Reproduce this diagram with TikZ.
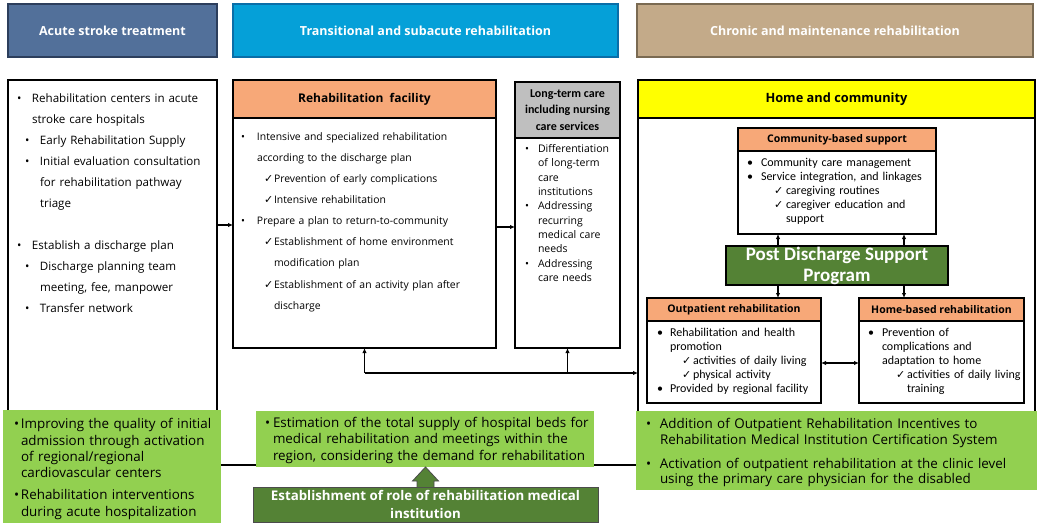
\documentclass[tikz,border=0pt]{standalone}
\usepackage{fontspec}
\setmainfont{Open Sans}
\newfontfamily\calfont{Carlito}
\newfontfamily\djv{DejaVu Sans}
\usetikzlibrary{arrows.meta}
\definecolor{acuteC}{HTML}{52709A}
\definecolor{acuteB}{HTML}{2C3E5C}
\definecolor{transC}{HTML}{05A0D8}
\definecolor{transB}{HTML}{0A6EA8}
\definecolor{chronC}{HTML}{C3AA89}
\definecolor{chronB}{HTML}{7A6A52}
\definecolor{orangeC}{HTML}{F7A878}
\definecolor{grayC}{HTML}{BFBFBF}
\definecolor{lgreen}{HTML}{92D050}
\definecolor{dgreen}{HTML}{548235}
\definecolor{yel}{HTML}{FFFF00}
\newcommand\itm[3]{\par\hangindent=#2\hangafter=1\noindent\hbox to #2{\hspace*{#1}#3\hfil}\ignorespaces}
\newcommand\bul{•}
\newcommand\chk{{\djv\fontsize{11}{11}\selectfont ✓}}
\newcommand\nl{\hfil\break}
\begin{document}
\begin{tikzpicture}[x=1pt,y=-1pt,
  every node/.style={inner sep=0pt, outer sep=0pt},
  hdr/.style={draw, line width=1.2pt, text=white, minimum height=53pt, font=\bfseries\fontsize{12.5}{15}\selectfont},
  wbox/.style={draw=black, line width=1.1pt, fill=white},
  obox/.style={draw=black, line width=1.1pt, fill=orangeC, minimum height=23pt, font=\bfseries\fontsize{10.5}{12}\selectfont},
  txt/.style={anchor=north west, align=left, text width=#1},
  gbox/.style={fill=lgreen},
  arr/.style={line width=1.1pt, -{Latex[length=5pt,width=4.5pt]}},
  darr/.style={line width=1.1pt, {Latex[length=5pt,width=4.5pt]}-{Latex[length=5pt,width=4.5pt]}},
  conn/.style={line width=1.1pt}]
\fill[white] (0,0) rectangle (1041,527);
\useasboundingbox (0,0) rectangle (1041,527);

% header bars
\node[hdr, fill=acuteC, draw=acuteB, minimum width=209pt] (h1) at (112.5,30.5) {Acute stroke treatment};
\node[hdr, fill=transC, draw=transB, minimum width=385pt] (h2) at (425.5,30.5) {Transitional and subacute rehabilitation};
\node[hdr, fill=chronC, draw=chronB, minimum width=396pt] (h3) at (835,30.5) {Chronic and maintenance rehabilitation};

% acute box
\node[wbox, minimum width=209pt, minimum height=340pt] (A) at (112.5,250) {};
\node[txt=250pt, font=\fontsize{11.6}{21}\selectfont] (At) at (14,81.8) {%
\itm{3pt}{18pt}{\bul}Rehabilitation centers in acute\nl stroke care hospitals
\itm{11pt}{26pt}{\bul}Early Rehabilitation Supply
\itm{11pt}{26pt}{\bul}Initial evaluation consultation\nl for rehabilitation pathway\nl triage\par
\vspace{21pt}
\itm{3pt}{18pt}{\bul}Establish a discharge plan
\itm{11pt}{26pt}{\bul}Discharge planning team\nl meeting, fee, manpower
\itm{11pt}{26pt}{\bul}Transfer network\par};

% rehabilitation facility
\node[wbox, minimum width=263pt, minimum height=268pt] (R) at (364.5,214) {};
\node[wbox, fill=orangeC, minimum width=263pt, minimum height=38pt, font=\bfseries\fontsize{12}{14}\selectfont] (Rh) at (364.5,99) {Rehabilitation\ \ facility};
\node[txt=300pt, font=\fontsize{10.4}{21.1}\selectfont] (Rt) at (238,119.2) {%
\itm{3pt}{19pt}{\bul}Intensive and specialized rehabilitation\nl according to the discharge plan
\itm{26pt}{36pt}{\chk}Prevention of early complications
\itm{26pt}{36pt}{\chk}Intensive rehabilitation
\itm{3pt}{19pt}{\bul}Prepare a plan to return-to-community
\itm{26pt}{36pt}{\chk}Establishment of home environment\nl modification plan
\itm{26pt}{36pt}{\chk}Establishment of an activity plan after\nl discharge\par};

% long-term care
\node[wbox, minimum width=105pt, minimum height=266pt] (L) at (567.5,215) {};
\node[wbox, fill=grayC, minimum width=105pt, minimum height=56pt, align=center, font=\calfont\bfseries\fontsize{12}{16.5}\selectfont] (Lh) at (567.5,110) {Long-term care\\including nursing\\care services};
\node[txt=150pt, font=\fontsize{10.5}{14.33}\selectfont] (Lt) at (522,138.2) {%
\itm{3pt}{16pt}{\bul}Differentiation\nl of long-term\nl care\nl institutions
\itm{3pt}{16pt}{\bul}Addressing\nl recurring\nl medical care\nl needs
\itm{3pt}{16pt}{\bul}Addressing\nl care needs\par};

% home and community
\node[wbox, minimum width=397pt, minimum height=335pt] (H) at (836.5,247.5) {};
\node[wbox, fill=yel, minimum width=397pt, minimum height=38pt, font=\bfseries\fontsize{12.8}{15}\selectfont] (Hh) at (836.5,99) {Home and community};

\node[wbox, minimum width=198pt, minimum height=106pt] (C) at (837,181) {};
\node[obox, minimum width=198pt] (Ch) at (837,139.5) {Community-based support};
\node[txt=200pt, font=\calfont\fontsize{12}{14}\selectfont] (Ct) at (744,152.3) {%
\itm{3pt}{17pt}{\bul}Community care management
\itm{3pt}{17pt}{\bul}Service integration, and linkages
\itm{30pt}{42pt}{\chk}caregiving routines
\itm{30pt}{42pt}{\chk}caregiver education and\nl support\par};

\node[draw=black, line width=1.1pt, fill=dgreen, minimum width=222pt, minimum height=39pt, text=white, align=center, font=\calfont\bfseries\fontsize{19}{21}\selectfont] (P) at (837,265.5) {Post Discharge Support\\Program};

\node[wbox, minimum width=174pt, minimum height=105pt] (O) at (734,350.5) {};
\node[obox, minimum width=174pt] (Oh) at (734,309.5) {Outpatient rehabilitation};
\node[txt=200pt, font=\calfont\fontsize{12}{14}\selectfont] (Ot) at (654,322.6) {%
\itm{3pt}{16pt}{\bul}Rehabilitation and health\nl promotion
\itm{28pt}{39pt}{\chk}activities of daily living
\itm{28pt}{39pt}{\chk}physical activity
\itm{3pt}{16pt}{\bul}Provided by regional facility\par};

\node[wbox, minimum width=165pt, minimum height=105pt] (B) at (941.5,350.5) {};
\node[obox, minimum width=165pt] (Bh) at (941.5,309.5) {Home-based rehabilitation};
\node[txt=200pt, font=\calfont\fontsize{12}{14}\selectfont] (Bt) at (865,322.5) {%
\itm{3pt}{17pt}{\bul}Prevention of\nl complications and\nl adaptation to home
\itm{31pt}{42pt}{\chk}activities of daily living\nl training\par};

% connectors among upper boxes
\draw[arr] ([yshift=25pt]A.east) -- ([yshift=25pt]A.east -| R.west);
\draw[arr] ([yshift=-13pt]R.east) -- ([yshift=-13pt]R.east -| L.west);
\coordinate (j1) at ([yshift=-25pt]R.south);
\coordinate (j2) at (L.south |- j1);
\draw[arr] (j1) -- (R.south);
\draw[arr] (j2) -- (L.south);
\draw[arr] (j1) -- (j1 -| H.west);

\draw[arr] ([xshift=-59pt]P.north) -- ([xshift=-59pt]P.north |- C.south);
\draw[arr] ([xshift=67pt]P.north) -- ([xshift=67pt]P.north |- C.south);
\draw[arr] ([xshift=-59pt]P.south) -- ([xshift=-59pt]P.south |- O.north);
\draw[arr] ([xshift=67pt]P.south) -- ([xshift=67pt]P.south |- B.north);
\draw[darr] ([yshift=-12.5pt]O.east) -- ([yshift=-12.5pt]O.east -| B.west);

% green policy boxes
\node[gbox, minimum width=218pt, minimum height=113pt] (G1) at (112,466.5) {};
\node[txt=250pt, font=\fontsize{13.4}{16.3}\selectfont] (G1t) at (11,412.5) {%
\itm{3pt}{10pt}{\bul}Improving the quality of initial\nl admission through activation\nl of regional/regional\nl cardiovascular centers\par
\vspace{5.7pt}
\itm{3pt}{10pt}{\bul}Rehabilitation interventions\nl during acute hospitalization\par};

\node[gbox, minimum width=338pt, minimum height=56pt] (G2) at (425,439) {};
\node[txt=400pt, font=\fontsize{13.4}{16.5}\selectfont] (G2t) at (262,410.5) {%
\itm{3pt}{11pt}{\bul}Estimation of the total supply of hospital beds for\nl medical rehabilitation and meetings within the\nl region, considering the demand for rehabilitation\par};

\node[gbox, minimum width=401pt, minimum height=79pt] (G3) at (836.5,450.5) {};
\node[txt=450pt, font=\fontsize{13.4}{15.7}\selectfont] (G3t) at (643,413) {%
\itm{3pt}{17pt}{\bul}Addition of Outpatient Rehabilitation Incentives to\nl Rehabilitation Medical Institution Certification System\par
\vspace{8pt}
\itm{3pt}{17pt}{\bul}Activation of outpatient rehabilitation at the clinic level\nl using the primary care physician for the disabled\par};

\draw[conn] ([yshift=2pt]G2.south west) -- ([yshift=2pt]G2.south west -| G1.east);
\draw[conn] ([yshift=2pt]G2.south east) -- ([yshift=2pt]G2.south east -| G3.west);

\node[draw=gray!60!black, line width=1pt, fill=dgreen, minimum width=345pt, minimum height=35pt, text=white, align=center, font=\bfseries\fontsize{13.3}{18}\selectfont] (D) at (425.5,504.5) {Establishment of role of rehabilitation medical\\institution};
\draw[draw=gray!60!black, line width=0.8pt, fill=dgreen]
  ([xshift=-8.5pt]D.north) -- ++(0,-6) -- ++(-4.5,0) -- (D.north |- G2.south)
  -- ([xshift=13pt,yshift=6pt]D.north) -- ++(-4.5,0) -- ([xshift=8.5pt]D.north);
\end{tikzpicture}
\end{document}
